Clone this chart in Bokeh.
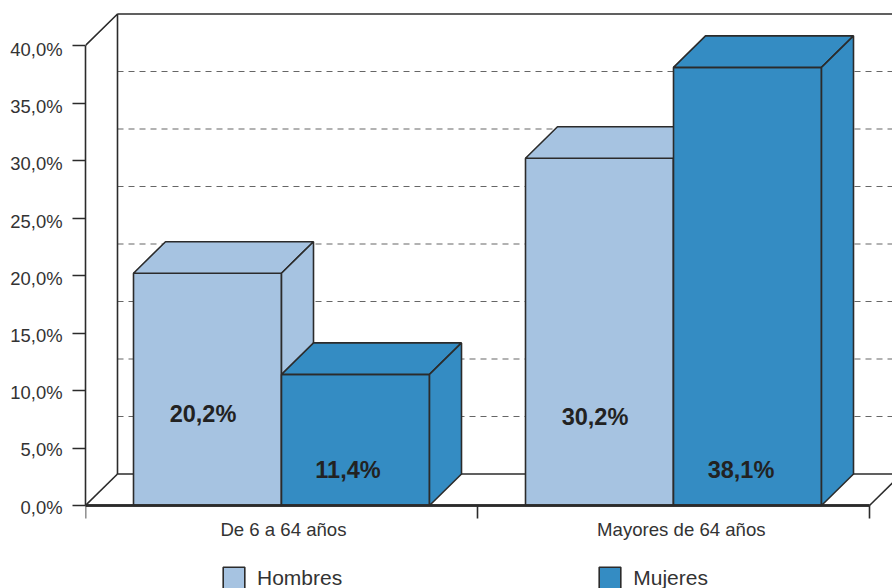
from bokeh.plotting import figure
from bokeh.embed import file_html
from bokeh.resources import INLINE
from bokeh.models import FixedTicker, Legend, LegendItem, LinearAxis, Range1d
from bokeh.core.properties import value

categories = ["De 6 a 64 años", "Mayores de 64 años"]
hombres = [20.2, 30.2]
mujeres = [11.4, 38.1]
value_labels_h = ["20,2%", "30,2%"]
value_labels_m = ["11,4%", "38,1%"]
y_ticks = [0, 5, 10, 15, 20, 25, 30, 35, 40]
y_tick_labels = ["0,0%", "5,0%", "10,0%", "15,0%", "20,0%", "25,0%", "30,0%", "35,0%", "40,0%"]

# layout (styles, not data)
PX_X = 392.0
PX_Y = 11.5
DX = 32 / PX_X
DY = 31.5 / PX_Y
X_MAX = 807 / PX_X
Y_MAX = 505 / PX_Y
Y_MIN = -83 / PX_Y
BAR_W = 148 / PX_X
BAR_OFF = 48 / PX_X
LIGHT = "#A6C3E1"
DARK = "#348CC3"
EDGE = "#2B2B2B"
TXT = "#333333"
FONT = "Liberation Sans"
LW = 1.6

p = figure(width=892, height=588, output_backend="svg", toolbar_location=None,
           x_range=Range1d(0, X_MAX), y_range=Range1d(Y_MIN, Y_MAX),
           min_border_left=85, min_border_right=0, min_border_top=0, min_border_bottom=0)
p.outline_line_color = None
p.background_fill_color = "white"
p.grid.visible = False

# axes
xa = p.xaxis[0]
xa.fixed_location = 0
xa.ticker = FixedTicker(ticks=[0.505, 1.52], minor_ticks=[0, 1, 2])
xa.major_label_overrides = {0.505: categories[0], 1.52: categories[1]}
xa.major_tick_line_color = None
xa.major_tick_in = 0
xa.major_tick_out = 0
xa.minor_tick_in = 0
xa.minor_tick_out = 13
xa.minor_tick_line_color = EDGE
xa.minor_tick_line_width = LW
xa.axis_line_color = EDGE
xa.axis_line_width = 2.5
xa.bounds = (0, 2)
xa.major_label_text_font = FONT
xa.major_label_text_font_size = "18.6px"
xa.major_label_text_color = TXT
xa.major_label_standoff = 0

ya = p.yaxis[0]
ya.ticker = FixedTicker(ticks=y_ticks)
ya.major_label_overrides = {t: "" for t in y_ticks}
ya.minor_tick_line_color = None
ya.major_tick_in = 0
ya.major_tick_out = 13
ya.major_tick_line_color = EDGE
ya.major_tick_line_width = LW
ya.axis_line_color = EDGE
ya.axis_line_width = LW
ya.bounds = (0, 40)
ya.major_label_standoff = 0

# the labels sit a little below their ticks in the reference
label_pos = [round((t * 11.44 - 1.6) / PX_Y, 4) for t in y_ticks]
label_axis = LinearAxis(
    ticker=FixedTicker(ticks=label_pos),
    major_label_overrides={pos: s for pos, s in zip(label_pos, y_tick_labels)},
    axis_line_color=None, major_tick_line_color=None, minor_tick_line_color=None,
    major_tick_in=0, major_tick_out=0, major_label_standoff=10,
    major_label_text_font=FONT, major_label_text_font_size="18.4px",
    major_label_text_color=TXT)
p.add_layout(label_axis, "left")

# wall and floor
y_top = y_ticks[-1] + DY
grid_vals = [t + DY for t in y_ticks[1:-1]]
p.segment(x0=[DX] * len(grid_vals), y0=grid_vals, x1=[X_MAX] * len(grid_vals), y1=grid_vals,
          line_color="#666666", line_width=1.1, line_dash="6 5")
p.multi_line(
    xs=[[0, DX, DX], [DX, X_MAX], [DX, X_MAX], [0, DX], [2, 2 + DX]],
    ys=[[y_ticks[-1], y_top, DY], [y_top, y_top], [DY, DY], [0, DY], [0, DY]],
    line_color=EDGE, line_width=LW)


def bar(x0, h, color):
    x1 = x0 + BAR_W
    front = p.quad(left=[x0], right=[x1], bottom=[0], top=[h],
                   fill_color=color, line_color=EDGE, line_width=LW)
    p.patch([x0, x0 + DX, x1 + DX, x1], [h, h + DY, h + DY, h],
            fill_color=color, line_color=EDGE, line_width=LW)
    p.patch([x1, x1 + DX, x1 + DX, x1], [0, DY, h + DY, h],
            fill_color=color, line_color=EDGE, line_width=LW)
    return front


swatch_h = swatch_m = None
for i in range(len(categories)):
    a = bar(i + BAR_OFF, hombres[i], LIGHT)
    b = bar(i + BAR_OFF + BAR_W, mujeres[i], DARK)
    swatch_h = swatch_h or a
    swatch_m = swatch_m or b

# redraw the base line above the bars
p.line([0, 2], [0, 0], line_color=EDGE, line_width=2.5)

# value labels
label_x_h = [(202.5 - 85) / PX_X, (594.5 - 85) / PX_X]
label_x_m = [(347.5 - 85) / PX_X, (740.5 - 85) / PX_X]
label_y_h = [(505 - 413) / PX_Y, (505 - 416) / PX_Y]
label_y_m = [(505 - 469) / PX_Y, (505 - 469) / PX_Y]
for xs, ys, txt in ((label_x_h, label_y_h, value_labels_h), (label_x_m, label_y_m, value_labels_m)):
    p.text(x=xs, y=ys, text=txt, text_font=value(FONT), text_font_size="23.5px",
           text_font_style="bold", text_color="#222222", text_align="center", text_baseline="middle")

legend = Legend(items=[LegendItem(label="Hombres", renderers=[swatch_h]),
                       LegendItem(label="Mujeres", renderers=[swatch_m])],
                orientation="horizontal", location=(135, -3), glyph_width=27, glyph_height=27,
                label_standoff=10, spacing=254, padding=0, margin=0,
                border_line_color=None, background_fill_alpha=0,
                label_text_font=FONT, label_text_font_size="21px", label_text_color=TXT,
                label_height=23)
p.add_layout(legend, "center")

open("out.html", "w").write(file_html(p, INLINE))
